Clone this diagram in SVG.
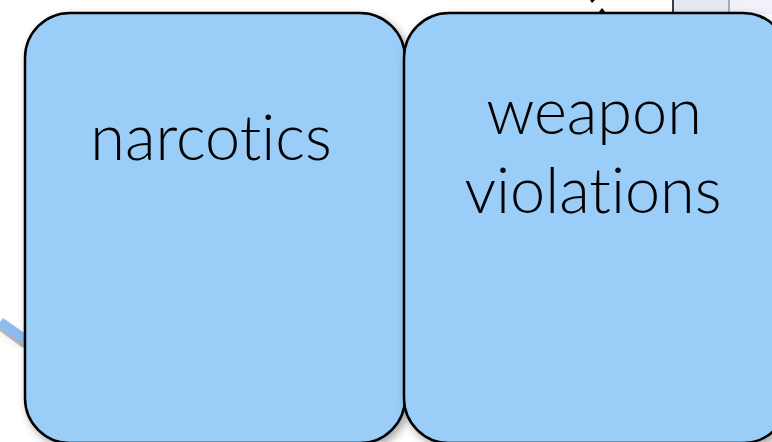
<svg xmlns="http://www.w3.org/2000/svg" width="772" height="442" viewBox="0 0 772 442">
<style>
.box{fill:#9acdf7;stroke:#000;stroke-width:2.5}
.lbl{font-family:Lato,"Open Sans","Liberation Sans",sans-serif;font-size:63px;fill:#000;text-anchor:middle;font-weight:300;font-variant-ligatures:none;font-feature-settings:"liga" 0}
</style>
<defs>
<filter id="sh" x="-10%" y="-10%" width="130%" height="130%">
<feDropShadow dx="3" dy="4" stdDeviation="4" flood-color="#000" flood-opacity="0.35"/>
</filter>
</defs>
<rect x="0" y="0" width="772" height="442" fill="#fff"/>
<g id="background">
<rect x="673" y="0" width="99" height="14" fill="#e6e9f4"/>
<rect x="730" y="0" width="42" height="14" fill="#f1f2f9"/>
<line x1="673" y1="0" x2="673" y2="14" stroke="#000" stroke-width="1.5"/>
<line x1="729" y1="0" x2="729" y2="14" stroke="#999" stroke-width="1.5"/>
</g>
<g id="connectors">
<path d="M0,325 L26,344" stroke="#000" stroke-opacity="0.25" stroke-width="10" filter="url(#sh)"/>
<path d="M0,322 L26,340" stroke="#8dbdf0" stroke-width="10"/>
<polygon points="595,0 590,0 592,3" fill="#000"/>
<polygon points="602,8 598,13 606,13" fill="#000"/>
</g>
<g id="node-narcotics">
<rect class="box" x="25" y="13" width="380" height="430" rx="45" ry="45" filter="url(#sh)"/>
<text class="lbl" x="211" y="160">narcotics</text>
</g>
<g id="node-weapon-violations">
<rect class="box" x="404" y="13" width="384" height="430" rx="45" ry="45" filter="url(#sh)"/>
<text class="lbl" x="594" y="134">weapon</text>
<text class="lbl" x="593" y="213">violations</text>
</g>
</svg>
